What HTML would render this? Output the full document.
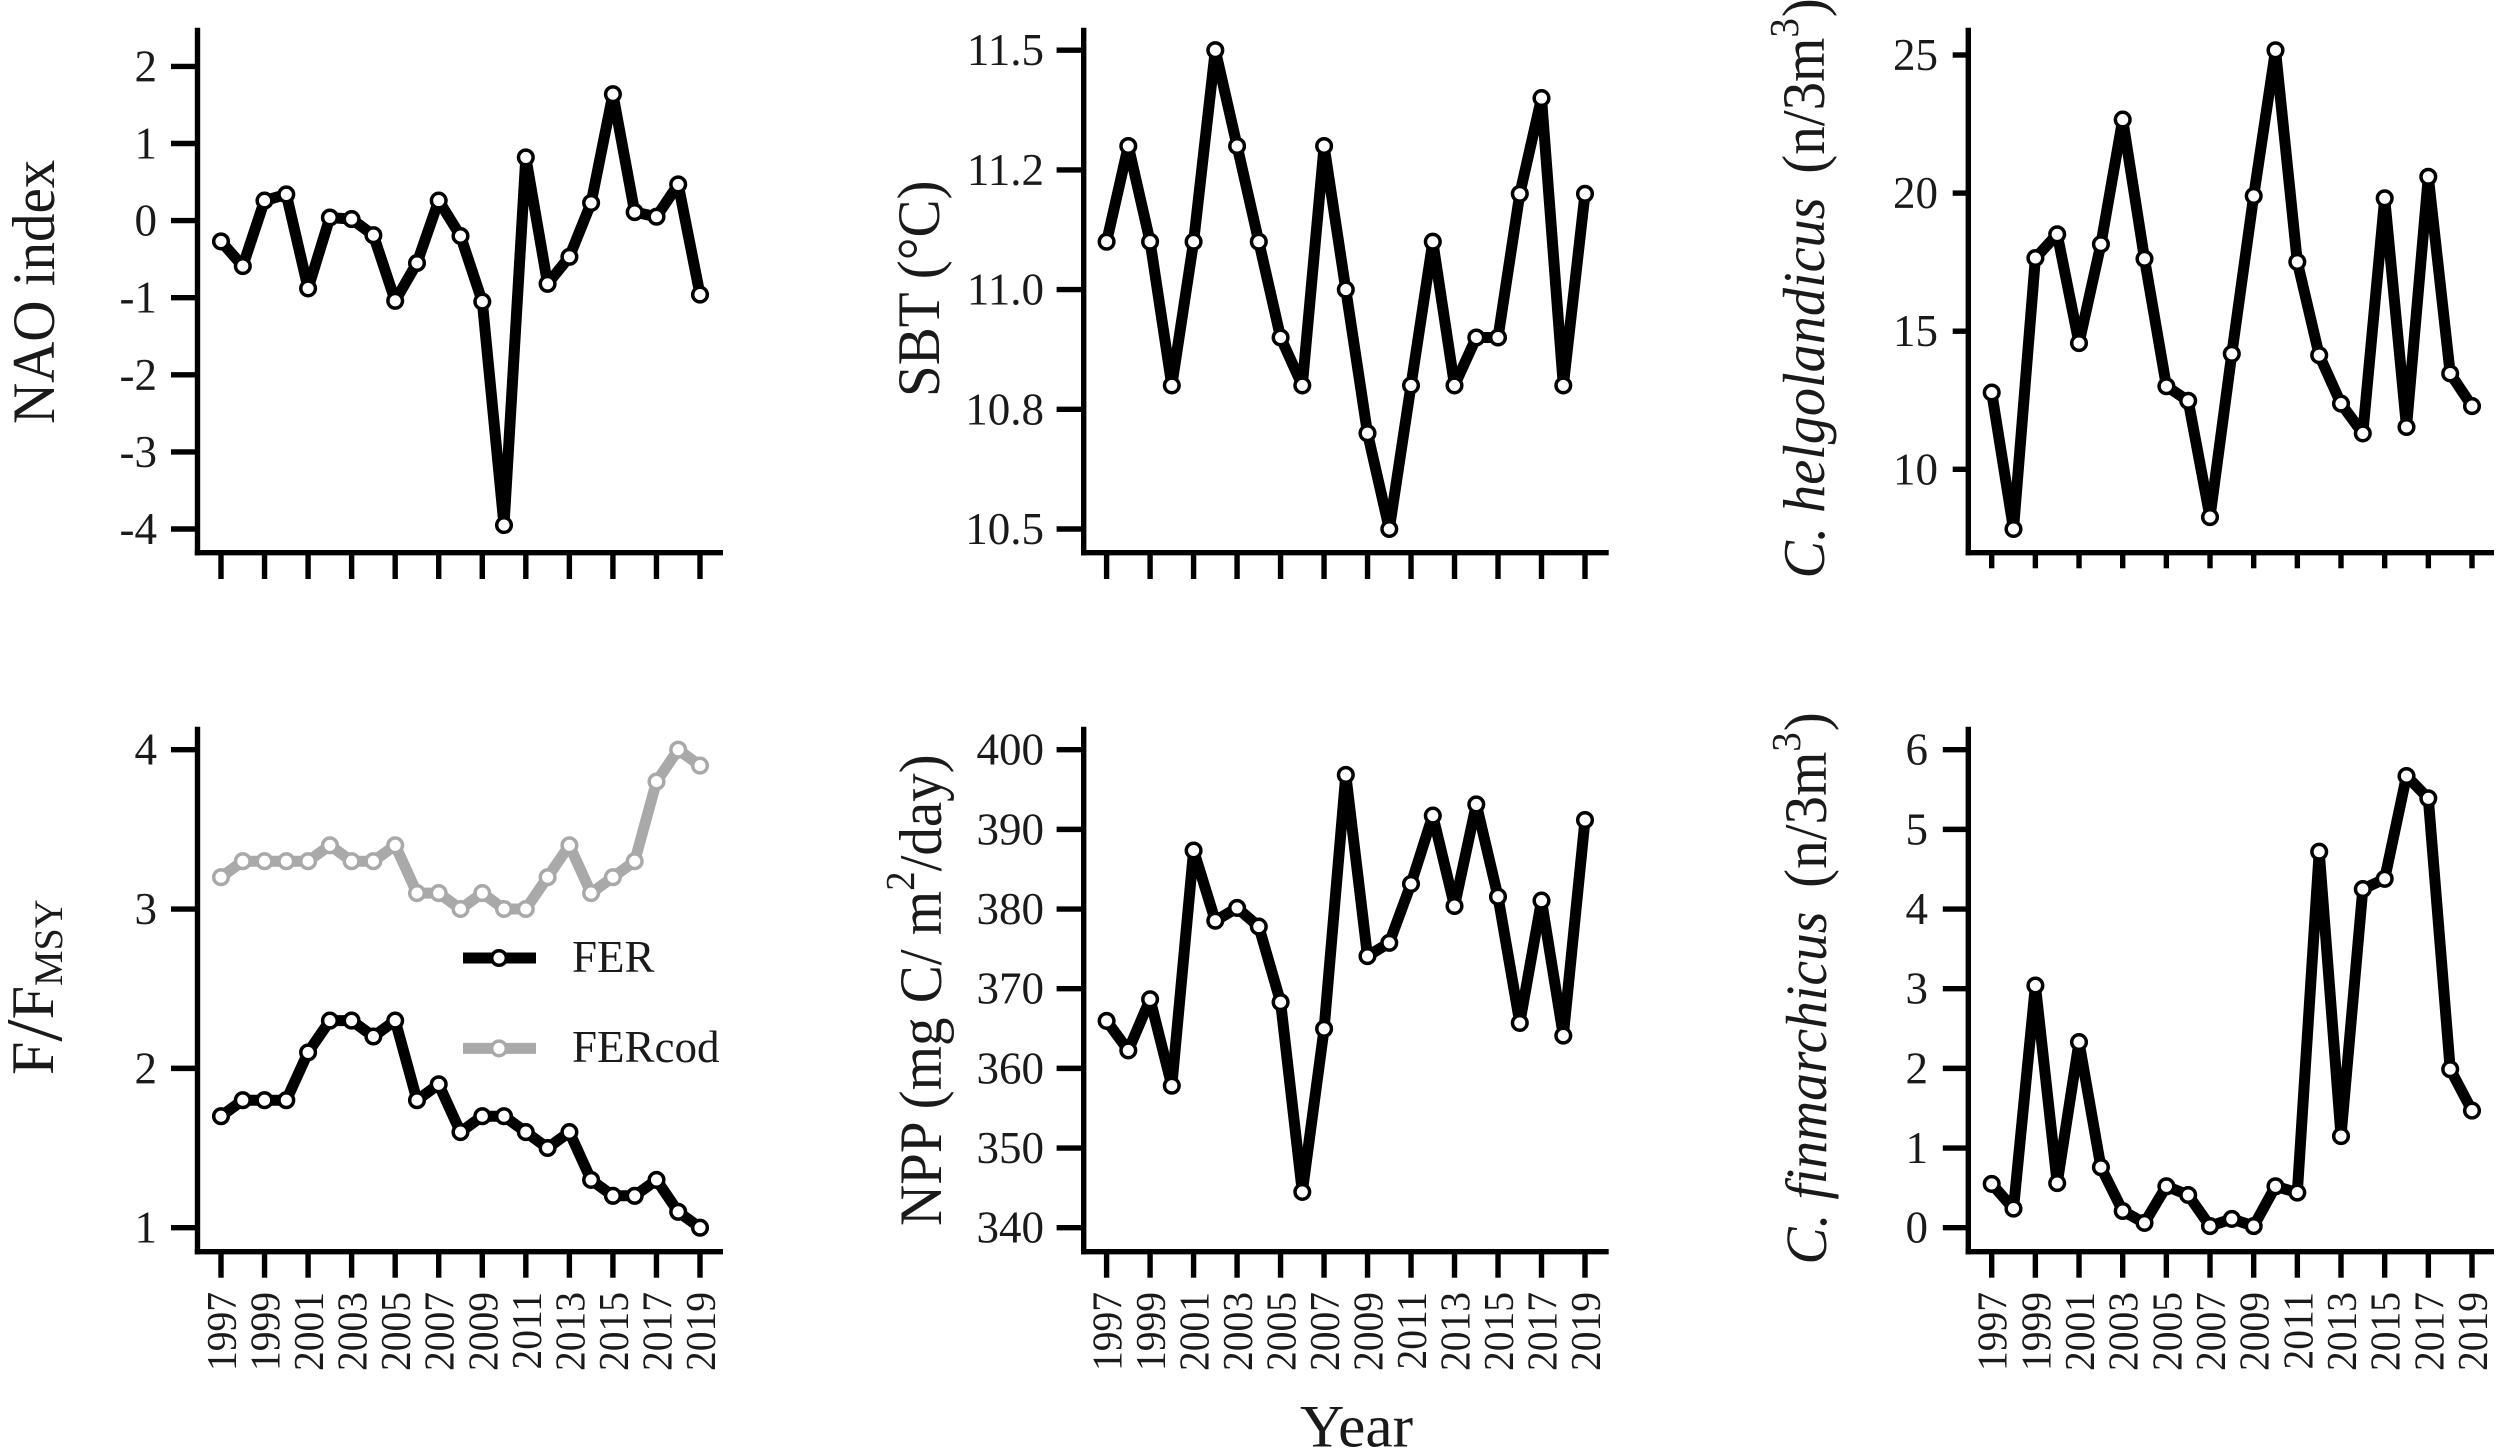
<!DOCTYPE html>
<html lang="en">
<head>
<meta charset="utf-8">
<title>Time series panels</title>
<style>
  html, body { margin: 0; padding: 0; background: #fff; }
  svg { display: block; font-family: "Liberation Serif", "Times New Roman", serif; fill: #1a1a1a; }
  .tick-label { font-size: 45px; }
  .year-label { font-size: 42px; }
  .axis-title { font-size: 60px; }
  .legend-label { font-size: 45px; }
</style>
</head>
<body>
<svg id="chart" width="2500" height="1450" viewBox="0 0 2500 1450" xmlns="http://www.w3.org/2000/svg">
  <rect width="2500" height="1450" fill="#fff"/>

  <text class="axis-title" transform="translate(54,424) rotate(-90) scale(.95,1)">NAO index</text>
  <text class="axis-title" transform="translate(939,397) rotate(-90) scale(.95,1)">SBT (°C)</text>
  <text class="axis-title" transform="translate(1824,578.5) rotate(-90) scale(.95,1)"><tspan font-style="italic" font-size="59.2">C. helgolandicus</tspan><tspan dx="10"> (n/3m</tspan><tspan font-size="41" dy="-26">3</tspan><tspan dy="26" dx="1">)</tspan></text>
  <text class="axis-title" transform="translate(53,1075) rotate(-90)">F<tspan font-size="80" dy="8">/</tspan><tspan dy="-8">F</tspan><tspan font-size="40" dy="9">MSY</tspan></text>
  <text class="axis-title" transform="translate(941,1226) rotate(-90) scale(.95,1)">NPP (mg C/ m<tspan font-size="41" dy="-27">2</tspan><tspan dy="27">/day)</tspan></text>
  <text class="axis-title" transform="translate(1826,1264.5) rotate(-90) scale(.95,1)"><tspan font-style="italic" font-size="58.5">C. finmarchicus</tspan><tspan dx="10"> (n/3m</tspan><tspan font-size="41" dy="-26">3</tspan><tspan dy="26" dx="1">)</tspan></text>
  <text class="axis-title" x="1300" y="1446.5" font-size="61" textLength="113" lengthAdjust="spacingAndGlyphs">Year</text>

  <g id="plots"></g>

  <g id="legend">
    <g>
      <line x1="463" y1="958" x2="536" y2="958" stroke="#000" stroke-width="11"/>
      <circle cx="499" cy="958" r="7.3" fill="#fff" stroke="#000" stroke-width="3.5"/>
      <text class="legend-label" x="572" y="972">FER</text>
    </g>
    <g>
      <line x1="463" y1="1048.4" x2="536" y2="1048.4" stroke="#a9a9a9" stroke-width="11"/>
      <circle cx="499" cy="1048.4" r="7.3" fill="#fff" stroke="#a9a9a9" stroke-width="3.5"/>
      <text class="legend-label" x="572" y="1062">FERcod</text>
    </g>
  </g>
</svg>

<script>
const years = [1997,1998,1999,2000,2001,2002,2003,2004,2005,2006,2007,2008,2009,2010,2011,2012,2013,2014,2015,2016,2017,2018,2019];

const naoValues = [-0.27,-0.59,0.26,0.34,-0.88,0.04,0.02,-0.19,-1.04,-0.55,0.26,-0.20,-1.05,-3.95,0.82,-0.82,-0.47,0.23,1.64,0.11,0.05,0.47,-0.96];
const sbtValues = [11.1,11.3,11.1,10.8,11.1,11.5,11.3,11.1,10.9,10.8,11.3,11.0,10.7,10.5,10.8,11.1,10.8,10.9,10.9,11.2,11.4,10.8,11.2];
const helgoValues = [12.78,7.84,17.65,18.51,14.57,18.15,22.66,17.62,13.01,12.48,8.27,14.18,19.90,25.17,17.51,14.13,12.38,11.30,19.81,11.53,20.59,13.47,12.29];
const ferValues = [1.7,1.8,1.8,1.8,2.1,2.3,2.3,2.2,2.3,1.8,1.9,1.6,1.7,1.7,1.6,1.5,1.6,1.3,1.2,1.2,1.3,1.1,1.0];
const fercodValues = [3.2,3.3,3.3,3.3,3.3,3.4,3.3,3.3,3.4,3.1,3.1,3.0,3.1,3.0,3.0,3.2,3.4,3.1,3.2,3.3,3.8,4.0,3.9];
const nppValues = [365.96,362.26,368.67,357.82,387.35,378.53,380.14,377.79,368.30,344.50,364.97,396.84,374.09,375.76,383.16,391.73,380.38,393.14,381.55,365.71,381.06,364.11,391.17];
const finValues = [0.55,0.24,3.04,0.56,2.33,0.76,0.21,0.06,0.52,0.41,0.02,0.11,0.02,0.52,0.44,4.72,1.15,4.25,4.38,5.67,5.39,1.99,1.47];

const naoTicks = [-4,-3,-2,-1,0,1,2];
const naoTickLabels = ["-4","-3","-2","-1","0","1","2"];
const sbtTicks = [10.5,10.75,11,11.25,11.5];
const sbtTickLabels = ["10.5","10.8","11.0","11.2","11.5"];
const helgoTicks = [10,15,20,25];
const helgoTickLabels = ["10","15","20","25"];
const ferTicks = [1,2,3,4];
const ferTickLabels = ["1","2","3","4"];
const nppTicks = [340,350,360,370,380,390,400];
const nppTickLabels = ["340","350","360","370","380","390","400"];
const finTicks = [0,1,2,3,4,5,6];
const finTickLabels = ["0","1","2","3","4","5","6"];

const yearTicks = [1997,1999,2001,2003,2005,2007,2009,2011,2013,2015,2017,2019];

const SVG_NS = 'http://www.w3.org/2000/svg';
const plots = document.getElementById('plots');

function shape(parent, tag, name, attrs, text) {
  const el = document.createElementNS(SVG_NS, tag);
  
  
  for (const k in attrs) el.setAttribute(k, attrs[k]);
  if (text !== undefined) el.textContent = text;
  parent.appendChild(el);
  return el;
}

function linear(d0, d1, r0, r1) {
  return v => r0 + (v - d0) * (r1 - r0) / (d1 - d0);
}

function drawSeries(g, name, values, color, sx, sy) {
  const pts = values.map((v, i) => sx(years[i]).toFixed(1) + ',' + sy(v).toFixed(1)).join(' ');
  shape(g, 'polyline', name + '-line', {
    points: pts, fill: 'none', stroke: color, 'stroke-width': 11, 'stroke-linejoin': 'round', 'stroke-linecap': 'butt'
  });
  values.forEach((v, i) => {
    shape(g, 'circle', name + '-point-' + years[i], {
      cx: sx(years[i]).toFixed(1), cy: sy(v).toFixed(1), r: 7.3, fill: '#fff', stroke: color, 'stroke-width': 3.5
    });
  });
}

function drawPanel(p) {
  const g = shape(plots, 'g', p.name + '-panel', {});
  const sx = linear(1997, 2019, p.x0, p.x1);
  const sy = linear(p.ticks[0], p.ticks[p.ticks.length - 1], p.yLow, p.yHigh);

  shape(g, 'line', p.name + '-y-axis', { x1: p.axisX, x2: p.axisX, y1: p.top, y2: p.axisY + 2.7, stroke: '#000', 'stroke-width': 5.4 });
  shape(g, 'line', p.name + '-x-axis', { x1: p.axisX - 2.7, x2: p.right, y1: p.axisY, y2: p.axisY, stroke: '#000', 'stroke-width': 5.4 });

  p.ticks.forEach((t, i) => {
    const y = sy(t);
    shape(g, 'line', p.name + '-y-tick', { x1: p.tickLeft, x2: p.axisX, y1: y, y2: y, stroke: '#000', 'stroke-width': 5.4 });
    shape(g, 'text', p.name + '-y-tick-label', { class: 'tick-label', x: p.labelRight, y: y + 15, 'text-anchor': 'end' }, p.labels[i]);
  });

  yearTicks.forEach(yr => {
    const x = sx(yr);
    shape(g, 'line', p.name + '-x-tick', { x1: x, x2: x, y1: p.axisY, y2: p.tickBottom, stroke: '#000', 'stroke-width': 5.4 });
    if (p.showYears) {
      shape(g, 'text', p.name + '-x-tick-label', {
        class: 'year-label', 'text-anchor': 'end', transform: 'translate(' + (x + 15) + ',1292) rotate(-90) scale(.94,1)'
      }, String(yr));
    }
  });

  p.series.forEach(s => drawSeries(g, s.name, s.values, s.color, sx, sy));
}

drawPanel({ name: 'nao', x0: 221, x1: 700, axisX: 197.5, right: 723, top: 27.7, axisY: 552.7, yLow: 529, yHigh: 66.4, tickLeft: 171, tickBottom: 579, labelRight: 157, showYears: false,
  ticks: naoTicks, labels: naoTickLabels, series: [{ name: 'nao', values: naoValues, color: '#000' }] });
drawPanel({ name: 'sbt', x0: 1106.6, x1: 1585, axisX: 1083.7, right: 1608.7, top: 27.7, axisY: 552.7, yLow: 529, yHigh: 50.2, tickLeft: 1056.6, tickBottom: 579, labelRight: 1044, showYears: false,
  ticks: sbtTicks, labels: sbtTickLabels, series: [{ name: 'sbt', values: sbtValues, color: '#000' }] });
drawPanel({ name: 'helgolandicus', x0: 1991.7, x1: 2472, axisX: 1968.3, right: 2494, top: 27.7, axisY: 552.7, yLow: 469.3, yHigh: 55, tickLeft: 1952.7, tickBottom: 568.3, labelRight: 1938, showYears: false,
  ticks: helgoTicks, labels: helgoTickLabels, series: [{ name: 'helgolandicus', values: helgoValues, color: '#000' }] });
drawPanel({ name: 'fmsy', x0: 221, x1: 700, axisX: 197.5, right: 723, top: 726.7, axisY: 1251.7, yLow: 1227.7, yHigh: 749.7, tickLeft: 171, tickBottom: 1277.7, labelRight: 157, showYears: true,
  ticks: ferTicks, labels: ferTickLabels, series: [{ name: 'fercod', values: fercodValues, color: '#a9a9a9' }, { name: 'fer', values: ferValues, color: '#000' }] });
drawPanel({ name: 'npp', x0: 1106.6, x1: 1585, axisX: 1083.7, right: 1608.7, top: 726.7, axisY: 1251.7, yLow: 1227.7, yHigh: 749.7, tickLeft: 1056.6, tickBottom: 1277.7, labelRight: 1044, showYears: true,
  ticks: nppTicks, labels: nppTickLabels, series: [{ name: 'npp', values: nppValues, color: '#000' }] });
drawPanel({ name: 'finmarchicus', x0: 1991.7, x1: 2472, axisX: 1968.3, right: 2494, top: 726.7, axisY: 1251.7, yLow: 1227.7, yHigh: 749.7, tickLeft: 1942.8, tickBottom: 1277.7, labelRight: 1928, showYears: true,
  ticks: finTicks, labels: finTickLabels, series: [{ name: 'finmarchicus', values: finValues, color: '#000' }] });
</script>
</body>
</html>
